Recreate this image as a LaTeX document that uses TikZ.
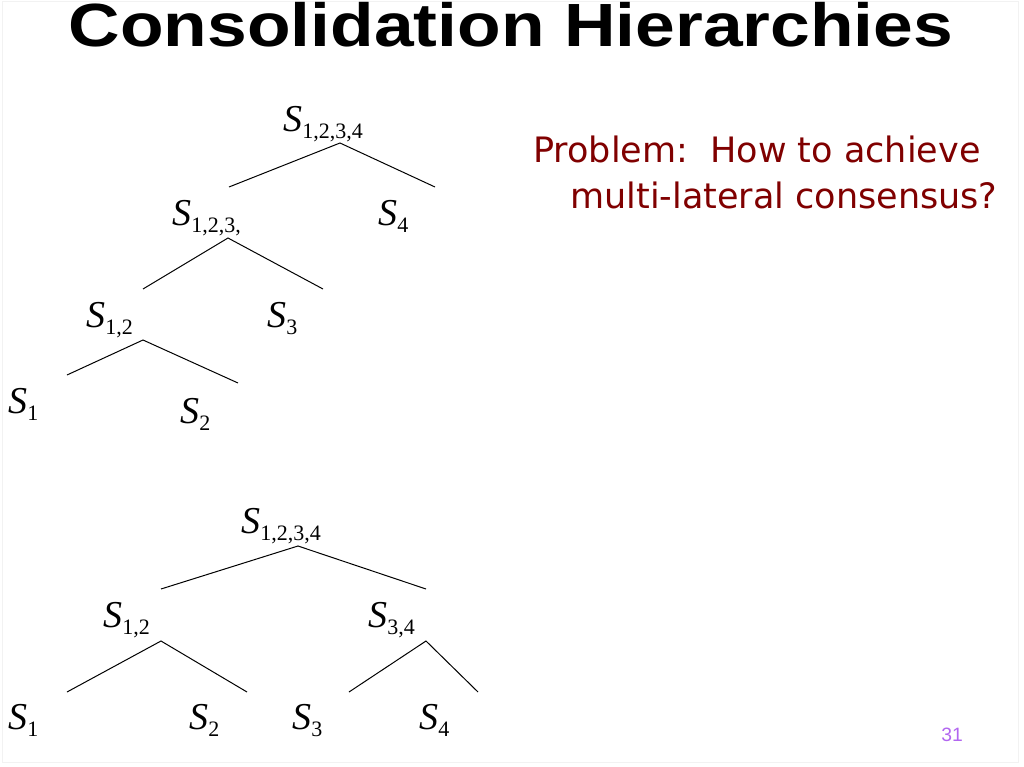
\documentclass[tikz,border=0pt]{standalone}
\usepackage{fontspec}
\setmainfont{Liberation Serif}
\newfontfamily\titlefont{Liberation Sans}
\newfontfamily\notefont{DejaVu Sans}
\definecolor{notered}{RGB}{128,0,0}
\definecolor{pagepurple}{RGB}{178,102,240}
% S with a roman subscript
\newcommand{\Sset}[1]{\textit{S}\raisebox{-5.25pt}{\fontsize{16.5pt}{16.5pt}\selectfont #1}}
\tikzset{
  setlabel/.style={anchor=base west,inner sep=0pt,font=\fontsize{28.5pt}{28.5pt}\selectfont},
  branch/.style={line width=0.75pt}
}
\begin{document}
\begin{tikzpicture}[x=0.75pt,y=-0.75pt]
                \useasboundingbox[fill=white] (0,0) rectangle (1024,767);
                \draw[black!5,line width=0.75pt] (2,2) rectangle (1018,762);
                \node[anchor=base,inner sep=0pt] (title) at (511,47)
                  {\scalebox{1.17}[1]{\titlefont\bfseries\fontsize{45.75pt}{45.75pt}\selectfont Consolidation Hierarchies}};
                % first tree
                \node[setlabel] (ta) at (283,132) {\Sset{1,2,3,4}};
                \node[setlabel] (tb) at (172,225) {\Sset{1,2,3,}};
                \node[setlabel] (t4) at (378,225) {\Sset{4}};
                \node[setlabel] (tc) at (86,327) {\Sset{1,2}};
                \node[setlabel] (t3) at (267,327) {\Sset{3}};
                \node[setlabel] (t1) at (8,413) {\Sset{1}};
                \node[setlabel] (t2) at (180,423) {\Sset{2}};
                \coordinate (ta top) at (340,143);
                \coordinate (ta l) at (229,187);
                \coordinate (ta r) at (435,187);
                \coordinate (tb top) at (228,238);
                \coordinate (tb l) at (143,289);
                \coordinate (tb r) at (323,289);
                \coordinate (tc top) at (143,340);
                \coordinate (tc l) at (67,375);
                \coordinate (tc r) at (238,383);
                \draw[branch] (ta l) -- (ta top) -- (ta r);
                \draw[branch] (tb l) -- (tb top) -- (tb r);
                \draw[branch] (tc l) -- (tc top) -- (tc r);
                % second tree
                \node[setlabel] (ba) at (241,533) {\Sset{1,2,3,4}};
                \node[setlabel] (bb) at (103,627) {\Sset{1,2}};
                \node[setlabel] (bc) at (368,627) {\Sset{3,4}};
                \node[setlabel] (b1) at (8,729) {\Sset{1}};
                \node[setlabel] (b2) at (189,729) {\Sset{2}};
                \node[setlabel] (b3) at (292,729) {\Sset{3}};
                \node[setlabel] (b4) at (419,729) {\Sset{4}};
                \coordinate (ba top) at (298,546);
                \coordinate (ba l) at (161,589);
                \coordinate (ba r) at (426,589);
                \coordinate (bb top) at (161,641);
                \coordinate (bb l) at (67,692);
                \coordinate (bb r) at (247,692);
                \coordinate (bc top) at (426,641);
                \coordinate (bc l) at (349,692);
                \coordinate (bc r) at (478,692);
                \draw[branch] (ba l) -- (ba top) -- (ba r);
                \draw[branch] (bb l) -- (bb top) -- (bb r);
                \draw[branch] (bc l) -- (bc top) -- (bc r);
                % note and page number
                \node[anchor=base west,inner sep=0pt,text=notered,font=\notefont\fontsize{26.25pt}{26.25pt}\selectfont] (note1) at (533,162) {Problem:\ \ How to achieve};
                \node[anchor=base west,inner sep=0pt,text=notered,font=\notefont\fontsize{26.25pt}{26.25pt}\selectfont] (note2) at (570,208) {multi-lateral consensus?};
                \node[anchor=base,inner sep=0pt,text=pagepurple,font=\titlefont\fontsize{14.5pt}{14.5pt}\selectfont] (page) at (952,741) {31};
            \end{tikzpicture}
\end{document}
